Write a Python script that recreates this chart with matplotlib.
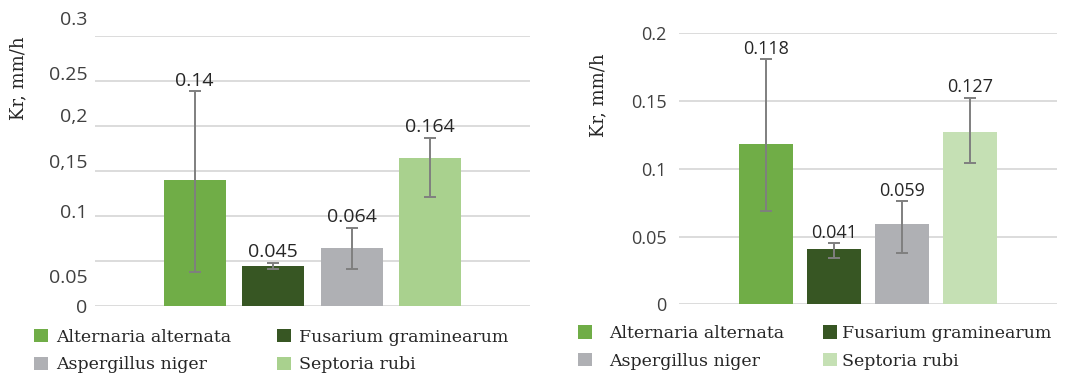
import numpy as np
import matplotlib.pyplot as plt
from matplotlib.patches import Patch

# --- Data ---
species = ['Alternaria alternata', 'Fusarium graminearum', 'Aspergillus niger', 'Septoria rubi']
left_values = [0.14, 0.045, 0.064, 0.164]
left_err_low = [0.038, 0.041, 0.041, 0.1215]
left_err_high = [0.239, 0.048, 0.087, 0.187]
right_values = [0.118, 0.041, 0.059, 0.127]
right_err_low = [0.069, 0.034, 0.038, 0.104]
right_err_high = [0.181, 0.045, 0.076, 0.1525]

# the left panel has hand-placed (shifted) tick labels
left_tick_labels = ['0.3', '0.25', '0,2', '0,15', '0.1', '0.05', '0']
left_tick_pos = [0.318, 0.257, 0.21, 0.159, 0.103, 0.031, -0.002]
right_ticks = [0, 0.05, 0.1, 0.15, 0.2]
right_tick_labels = ['0', '0.05', '0.1', '0.15', '0.2']

# --- Styles ---
left_colors = ['#70AD47', '#375623', '#AFB0B4', '#A9D18E']
right_colors = ['#70AD47', '#375623', '#AFB0B4', '#C5E0B4']
NUM_FONT = 'Open Sans'
SERIF_FONT = 'DejaVu Serif'
TEXT_COLOR = '#404040'
GRID_COLOR = '#D9D9D9'
ERR_COLOR = '#7F7F7F'
W, H = 1077, 375
BAR_W = 0.143
STEP = 0.1805


def draw_panel(ax, values, low, high, colors, ymax, label_size):
    offsets = (np.arange(len(values)) - 1.5) * STEP
    vals = np.array(values)
    yerr = [vals - np.array(low), np.array(high) - vals]
    ax.bar(offsets, vals, width=BAR_W, color=colors, zorder=2)
    ax.errorbar(offsets, vals, yerr=yerr, fmt='none', ecolor=ERR_COLOR,
                elinewidth=1.4, capsize=4.3, capthick=1.4, zorder=3)
    for x, v, top in zip(offsets, values, high):
        ax.annotate(f'{v:g}', (x, top), xytext=(0, 1), textcoords='offset points',
                    ha='center', va='bottom', fontsize=label_size,
                    family=NUM_FONT, color='#262626', zorder=4)
    ax.set_xlim(-0.5, 0.5)
    ax.set_ylim(0, ymax)
    ax.set_xticks([])
    for s in ax.spines.values():
        s.set_visible(False)
    ax.yaxis.grid(True, color=GRID_COLOR, linewidth=1.3)
    ax.set_axisbelow(True)
    ax.tick_params(axis='y', length=0)


fig = plt.figure(figsize=(W / 100, H / 100), dpi=100)

# Left panel
ax1 = fig.add_axes([95 / W, 1 - 306 / H, 435 / W, 270 / H])
draw_panel(ax1, left_values, left_err_low, left_err_high, left_colors, 0.3, 14)
ax1.set_yticks(np.arange(0, 0.31, 0.05))
ax1.tick_params(axis='y', labelleft=False)
for lab, pos in zip(left_tick_labels, left_tick_pos):
    ax1.text(-0.018, pos, lab, transform=ax1.get_yaxis_transform(),
             ha='right', va='center', fontsize=14, family=NUM_FONT,
             color=TEXT_COLOR, clip_on=False)

# Right panel
ax2 = fig.add_axes([679 / W, 1 - 304.3 / H, 378 / W, 271 / H])
draw_panel(ax2, right_values, right_err_low, right_err_high, right_colors, 0.2, 13)
ax2.set_yticks(right_ticks)
ax2.set_yticklabels(right_tick_labels, fontsize=13, family=NUM_FONT, color=TEXT_COLOR)
ax2.tick_params(axis='y', pad=9)

# Axis titles
fig.text(18 / W, 1 - 78 / H, 'Kr, mm/h', rotation=90, ha='center', va='center',
         fontsize=13, family=SERIF_FONT, color='#262626')
fig.text(598 / W, 1 - 95 / H, 'Kr, mm/h', rotation=90, ha='center', va='center',
         fontsize=13, family=SERIF_FONT, color='#262626')


# Legends: one per column so the columns sit where the reference has them
def add_legend_column(names, colors, x_px, y_px, textpad):
    handles = [Patch(facecolor=c, edgecolor='none') for c in colors]
    leg = fig.legend(handles, names, loc='center left',
                     bbox_to_anchor=(x_px / W, 1 - y_px / H), frameon=False,
                     borderpad=0, borderaxespad=0, handlelength=0.8,
                     handleheight=0.8, handletextpad=textpad, labelspacing=0.62,
                     prop={'family': SERIF_FONT, 'size': 12.5})
    for t in leg.get_texts():
        t.set_color('#262626')


add_legend_column([species[0], species[2]], [left_colors[0], left_colors[2]], 34, 351, 0.45)
add_legend_column([species[1], species[3]], [left_colors[1], left_colors[3]], 277, 351, 0.45)
add_legend_column([species[0], species[2]], [right_colors[0], right_colors[2]], 578, 347.5, 1.0)
add_legend_column([species[1], species[3]], [right_colors[1], right_colors[3]], 823, 347.5, 0.3)

fig.savefig('out.png', dpi=100)
